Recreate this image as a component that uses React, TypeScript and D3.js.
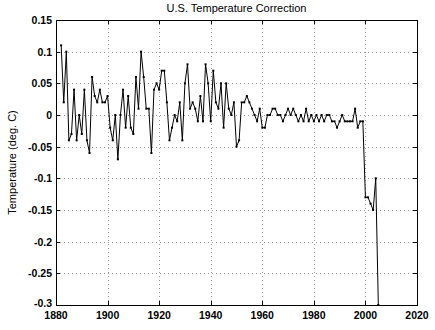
import React, { useEffect, useRef } from "react";
import * as d3 from "d3";

const years: number[] = d3.range(1882, 2006);
const corrections: number[] = [
  0.11, 0.02, 0.10, -0.04, -0.03, 0.04, -0.04, 0.00, -0.03, 0.04,
  -0.04, -0.06, 0.06, 0.03, 0.02, 0.04, 0.02, 0.02, 0.03, -0.02,
  -0.04, 0.00, -0.07, 0.00, 0.04, -0.02, 0.03, -0.02, -0.03, 0.06,
  0.01, 0.10, 0.06, 0.01, 0.01, -0.06, 0.04, 0.05, 0.04, 0.07,
  0.07, 0.02, -0.04, -0.02, 0.00, -0.01, 0.02, -0.04, 0.05, 0.08,
  0.01, 0.02, 0.01, -0.01, 0.03, -0.01, 0.08, 0.05, -0.01, 0.07,
  0.02, 0.01, 0.05, -0.02, 0.05, 0.01, 0.00, 0.02, -0.05, -0.04,
  0.02, 0.02, 0.03, 0.02, 0.01, 0.00, -0.01, 0.01, -0.02, -0.02,
  0.00, 0.00, 0.01, 0.01, 0.00, 0.00, -0.01, 0.00, 0.01, 0.00,
  0.01, 0.00, -0.01, 0.00, -0.01, 0.01, -0.01, 0.00, -0.01, 0.00,
  -0.01, 0.00, -0.01, 0.00, 0.00, -0.01, -0.01, -0.02, -0.01, 0.00,
  -0.01, -0.01, -0.01, -0.01, 0.01, -0.02, -0.01, -0.01, -0.13, -0.13,
  -0.14, -0.15, -0.10, -0.30,
];
const xTicks: number[] = [1880, 1900, 1920, 1940, 1960, 1980, 2000, 2020];
const yTicks: number[] = [0.15, 0.1, 0.05, 0, -0.05, -0.1, -0.15, -0.2, -0.25, -0.3];
const title = "U.S. Temperature Correction";
const yLabel = "Temperature (deg. C)";

export default function App() {
  const ref = useRef<SVGSVGElement>(null);
  useEffect(() => {
    const svg = d3.select(ref.current);
    svg.selectAll("*").remove();
    const L = 56, R = 417, T = 20, B = 305;
    const x = d3.scaleLinear().domain([1880, 2020]).range([L, R]);
    const y = d3.scaleLinear().domain([-0.3, 0.15]).range([B, T]);
    const font = "Arial, 'Liberation Sans', Helvetica, sans-serif";

    svg.append("rect").attr("x", 0).attr("y", 0).attr("width", 435).attr("height", 330).attr("fill", "#fff");

    // grid
    const g = svg.append("g");
    xTicks.slice(1, -1).forEach((t) => {
      g.append("line").attr("x1", Math.round(x(t)) + 0.5).attr("x2", Math.round(x(t)) + 0.5).attr("y1", T).attr("y2", B)
        .attr("stroke", "#999").attr("stroke-dasharray", "1,3");
    });
    yTicks.slice(1, -1).forEach((t) => {
      g.append("line").attr("x1", L).attr("x2", R).attr("y1", Math.round(y(t)) + 0.5).attr("y2", Math.round(y(t)) + 0.5)
        .attr("stroke", "#999").attr("stroke-dasharray", "1,3");
    });

    // ticks inward
    xTicks.forEach((t) => {
      const xx = Math.round(x(t)) + 0.5;
      g.append("line").attr("x1", xx).attr("x2", xx).attr("y1", B).attr("y2", B - 4).attr("stroke", "#000");
      g.append("line").attr("x1", xx).attr("x2", xx).attr("y1", T).attr("y2", T + 4).attr("stroke", "#000");
    });
    yTicks.forEach((t) => {
      const yy = Math.round(y(t)) + 0.5;
      g.append("line").attr("x1", L).attr("x2", L + 4).attr("y1", yy).attr("y2", yy).attr("stroke", "#000");
      g.append("line").attr("x1", R).attr("x2", R - 4).attr("y1", yy).attr("y2", yy).attr("stroke", "#000");
    });

    // data
    svg.append("clipPath").attr("id", "clip").append("rect")
      .attr("x", L).attr("y", T).attr("width", R - L).attr("height", B - T);
    const data = years.map((yr, i) => [yr, corrections[i]] as [number, number]);
    const line = d3.line<[number, number]>().x((d) => x(d[0])).y((d) => y(d[1]));
    const pg = svg.append("g").attr("clip-path", "url(#clip)");
    pg.append("path").attr("d", line(data)!).attr("fill", "none").attr("stroke", "#000").attr("stroke-width", 1);
    pg.selectAll("rect.m").data(data).enter().append("rect").attr("class", "m")
      .attr("x", (d) => x(d[0]) - 1).attr("y", (d) => y(d[1]) - 1).attr("width", 2).attr("height", 2).attr("fill", "#000");

    // box
    svg.append("rect").attr("x", L + 0.5).attr("y", T + 0.5).attr("width", R - L).attr("height", B - T)
      .attr("fill", "none").attr("stroke", "#000").attr("stroke-width", 1);

    // tick labels
    xTicks.forEach((t) => {
      svg.append("text").attr("x", x(t)).attr("y", 319).attr("text-anchor", "middle")
        .attr("font-family", font).attr("font-size", 10.5).attr("font-weight", "bold").text(String(t));
    });
    yTicks.forEach((t) => {
      const yy = t === -0.3 ? y(t) + 2 : y(t) + 4;
      svg.append("text").attr("x", 52).attr("y", yy).attr("text-anchor", "end")
        .attr("font-family", font).attr("font-size", 10.5).attr("font-weight", "bold").text(String(t));
    });

    svg.append("text").attr("x", (L + R) / 2).attr("y", 12).attr("text-anchor", "middle")
      .attr("font-family", font).attr("font-size", 11).text(title);
    svg.append("text").attr("transform", `translate(16,${(T + B) / 2}) rotate(-90)`).attr("text-anchor", "middle")
      .attr("font-family", font).attr("font-size", 11).text(yLabel);
  }, []);
  return (
    <svg ref={ref} width={435} height={330} style={{ position: "absolute", left: 0, top: 0, display: "block" }} />
  );
}
